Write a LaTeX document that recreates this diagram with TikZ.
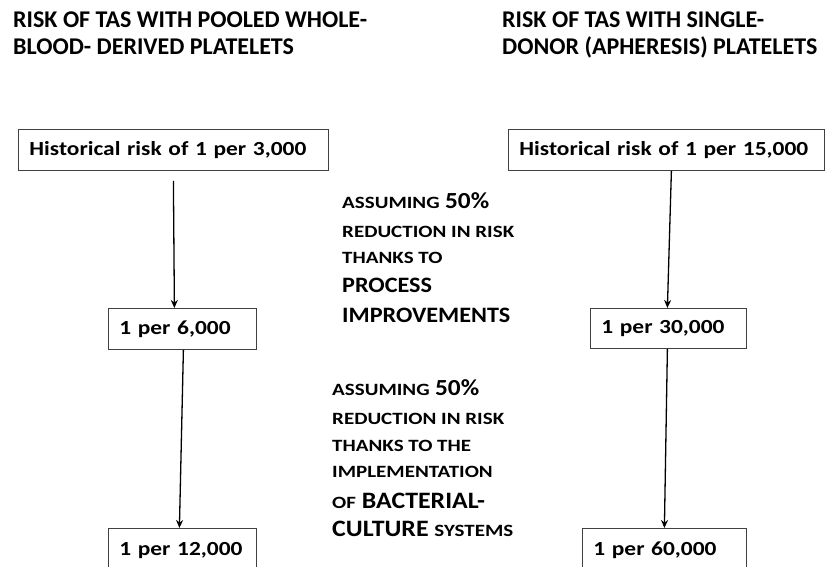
\documentclass[tikz,border=0pt]{standalone}
\usepackage{fontspec}
\setmainfont{Carlito}
\newfontfamily\widefont{Carlito}[FakeStretch=1.1]
\newfontfamily\boxfont{Carlito}[FakeStretch=1.17]
\usepackage{graphicx}
\usetikzlibrary{arrows.meta}
\newcommand{\smc}[1]{{\rmfamily\bfseries\fontsize{21}{25}\selectfont\scalebox{1}[0.82]{#1}}}
\begin{document}
\begin{tikzpicture}[x=1pt,y=-1pt,
  every node/.style={inner sep=0pt, font=\bfseries},
  title/.style={anchor=base west, font=\bfseries\fontsize{24}{28}\selectfont},
  note/.style={anchor=base west, font=\widefont\bfseries\fontsize{22}{26}\selectfont},
  bignote/.style={anchor=base west, font=\widefont\bfseries\fontsize{23.5}{27}\selectfont},
  box/.style={draw=black!75, line width=0.8pt, anchor=north west, inner xsep=11pt, inner ysep=0pt,
    align=left, font=\boxfont\bfseries\fontsize{20}{24}\selectfont},
  conn/.style={draw=black, line width=1.3pt, -{Stealth[length=8pt,width=7pt]}}]
\useasboundingbox (0,0) rectangle (825,567);
% titles
\node[title] (t1a) at (13,28) {RISK OF TAS WITH POOLED WHOLE-};
\node[title] (t1b) at (13,55) {BLOOD- DERIVED PLATELETS};
\node[title] (t2a) at (502,28) {RISK OF TAS WITH SINGLE-};
\node[title] (t2b) at (502,55) {DONOR (APHERESIS) PLATELETS};
% boxes
\node[box, minimum width=310pt, text width=288pt, minimum height=41pt] (b1) at (18,129) {Historical risk of 1 per 3,000};
\node[box, minimum width=316pt, text width=294pt, minimum height=41pt] (b2) at (508,129) {Historical risk of 1 per 15,000};
\node[box, minimum width=148pt, text width=126pt, minimum height=41pt] (m1) at (108,308) {1 per 6,000};
\node[box, minimum width=156pt, text width=134pt, minimum height=40pt] (m2) at (590,308) {1 per 30,000};
\node[box, minimum width=148pt, text width=126pt, minimum height=44pt] (e1) at (108,528) {1 per 12,000};
\node[box, minimum width=164pt, text width=142pt, minimum height=44pt] (e2) at (582,528) {1 per 60,000};
% connectors
\coordinate (s1) at ([yshift=-10pt,xshift=0pt]b1.south);
\draw[conn] (s1) -- ([xshift=-8pt]m1.north);
\draw[conn] ([xshift=1pt]m1.south) -- ([xshift=-3pt]e1.north);
\draw[conn] ([xshift=5pt]b2.south) -- ([xshift=-1pt]m2.north);
\draw[conn] ([xshift=-1pt]m2.south) -- (e2.north);
% notes block 1
\node[note] (n1) at (342,208) {\smc{ASSUMING} {\fontsize{23}{26}\selectfont 50\%}};
\node[note] (n2) at (342,237) {\smc{REDUCTION IN RISK}};
\node[note] (n3) at (342,263) {\smc{THANKS TO}};
\node[note] (n4) at (342,292) {PROCESS};
\node[note] (n5) at (342,322) {IMPROVEMENTS};
% notes block 2
\node[note] (p1) at (332,395) {\smc{ASSUMING} {\fontsize{23}{26}\selectfont 50\%}};
\node[note] (p2) at (332,424) {\smc{REDUCTION IN RISK}};
\node[note] (p3) at (332,451) {\smc{THANKS TO THE}};
\node[note] (p4) at (332,477) {\smc{IMPLEMENTATION}};
\node[bignote] (p5) at (332,508) {\smc{OF} BACTERIAL-};
\node[bignote] (p6) at (332,536) {CULTURE \smc{SYSTEMS}};
\end{tikzpicture}
\end{document}
